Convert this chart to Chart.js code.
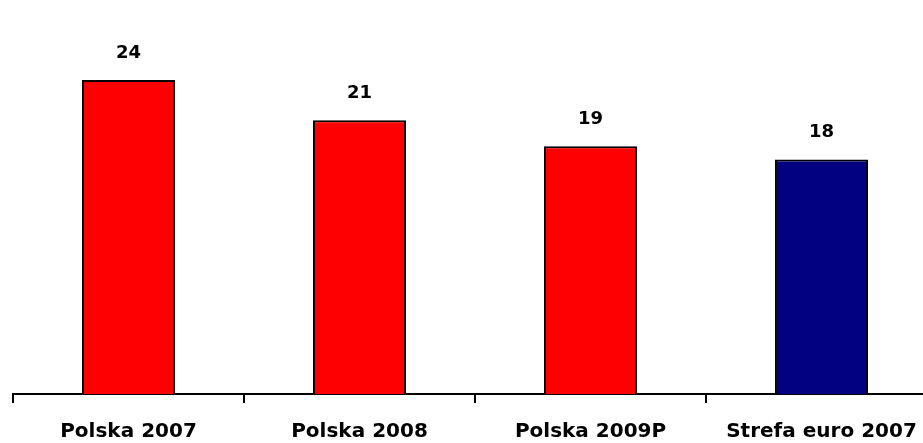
<!DOCTYPE html>
<html>
<head>
<meta charset="utf-8">
<script src="https://cdn.jsdelivr.net/npm/chart.js@4/dist/chart.umd.min.js"></script>
<style>
  html, body { margin: 0; padding: 0; background: #fff; overflow: hidden; }
  #wrap { width: 923px; height: 443px; overflow: hidden; }
</style>
</head>
<body>
<div id="wrap"><canvas id="c" width="940" height="443"></canvas></div>
<script>
// data
const categories = ['Polska 2007', 'Polska 2008', 'Polska 2009P', 'Strefa euro 2007'];
const values = [24.1, 21, 19, 18];
const barColors = ['#ff0000', '#ff0000', '#ff0000', '#000080'];

// draw the number above each bar
const valueLabels = {
    id: 'valueLabels',
    afterDatasetsDraw(chart) {
        const ctx = chart.ctx;
        const meta = chart.getDatasetMeta(0);
        ctx.save();
        ctx.font = 'bold 18px "DejaVu Sans"';
        ctx.fillStyle = '#000';
        ctx.textAlign = 'center';
        ctx.textBaseline = 'alphabetic';
        meta.data.forEach(function (bar, i) {
            ctx.fillText(values[i].toFixed(0), bar.x, bar.y - 22);
        });
        ctx.restore();
    }
};

const ctx = document.getElementById('c');
new Chart(ctx, {
    type: 'bar',
    data: {
        labels: categories,
        datasets: [{
            data: values,
            backgroundColor: barColors,
            borderColor: '#000',
            borderWidth: 2,
            categoryPercentage: 1,
            barPercentage: 0.403
        }]
    },
    options: {
        responsive: false,
        animation: false,
        layout: { padding: { left: 13, right: 3, top: 3, bottom: -18 } },
        plugins: {
            legend: { display: false },
            tooltip: { enabled: false }
        },
        scales: {
            y: {
                display: false,
                min: 0,
                max: 30
            },
            x: {
                grid: {
                    drawOnChartArea: false,
                    drawTicks: true,
                    tickLength: 9,
                    color: '#000',
                    lineWidth: 2
                },
                border: { color: '#000', width: 2 },
                ticks: {
                    color: '#000',
                    padding: 17,
                    maxRotation: 0,
                    font: { family: 'DejaVu Sans', size: 20, weight: 'bold' }
                }
            }
        }
    },
    plugins: [valueLabels]
});
</script>
</body>
</html>
